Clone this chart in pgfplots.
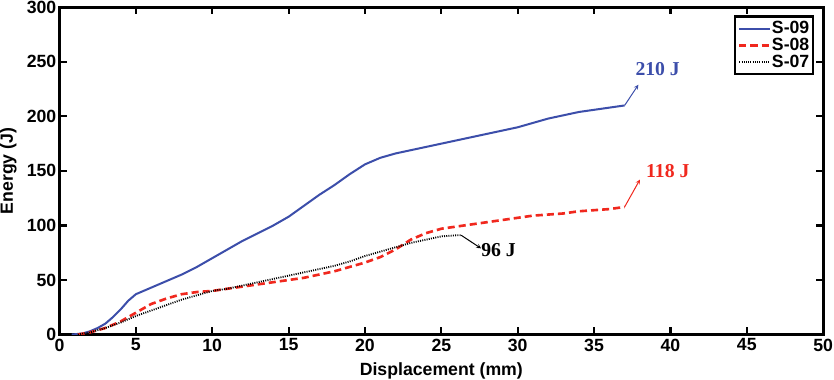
\documentclass[border=0pt]{standalone}
\usepackage{fontspec}
\setmainfont{Liberation Sans}
\newfontfamily\annfont{Liberation Serif}
\usepackage{pgfplots}
\pgfplotsset{compat=1.18}
\definecolor{sblue}{RGB}{60,78,170}
\definecolor{sred}{RGB}{240,40,30}
\newcommand{\bigbf}{\fontsize{17.5bp}{19bp}\selectfont\bfseries}
\newcommand{\annbf}{\annfont\fontsize{19.5bp}{21bp}\selectfont\bfseries}
\begin{document}
\begin{tikzpicture}
\begin{axis}[
  scale only axis,
  width=756bp, height=324bp,
  xmin=0, xmax=50, ymin=0, ymax=300,
  xtick={0,5,...,50}, ytick={0,50,...,300},
  tick align=inside, major tick length=7bp,
  tick style={line width=2.2pt, black},
  axis line style={line width=2.8pt},
  /pgf/number format/assume math mode=true,
  tick label style={font=\bigbf},
  label style={font=\bigbf},
  xticklabel style={inner sep=1bp, yshift=-3bp},
  yticklabel style={inner sep=1bp, xshift=-2bp},
  xlabel={Displacement (mm)}, ylabel={Energy (J)},
  xlabel style={at={(axis description cs:0.5,-0.086)}, anchor=north, inner sep=0bp},
  ylabel style={at={(axis description cs:-0.056,0.5)}, anchor=south, inner sep=0bp},
  legend style={at={(0.9886,0.975)}, anchor=north east, draw=black, line width=2.2pt,
    font=\bigbf, row sep=1bp, inner xsep=3bp, inner ysep=4bp,
    nodes={inner sep=1bp}},
  legend cell align=left,
  legend image code/.code={\draw[#1] (0bp,0bp) -- (30bp,0bp);},
  legend image post style={xshift=-3bp},
]
\addplot[sblue, line width=2pt] coordinates {
 (0.8,0) (1.5,1) (2,3) (2.5,6) (3,10) (3.5,16) (4,23) (4.5,31) (5,37) (6,43)
 (7,49) (8,55) (9,62) (10,70) (11,78) (12,86) (13,93) (14,100) (15,108)
 (16,118) (17,128) (18,137) (19,147) (20,156) (21,162) (22,166) (23,169)
 (24,172) (25,175) (26,178) (27,181) (28,184) (29,187) (30,190) (31,194)
 (32,198) (33,201) (34,204) (35,206) (36,208) (37,210)};
\addlegendentry{S-09}
\addplot[sred, line width=2.6pt, dash pattern=on 7bp off 4bp] coordinates {
 (1.2,0) (2,2) (3,6) (4,12) (5,20) (6,28) (7,33) (8,37) (9,39) (10,40)
 (11,42) (12,44) (13,46) (14,48) (15,50) (16,52) (17,55) (18,58) (19,62)
 (20,66) (21,71) (22,78) (23,87) (24,93) (25,97) (26,99) (27,101) (28,103)
 (29,105) (30,107) (31,109) (32,110) (33,111) (34,113) (35,114) (36,115) (37,117)};
\addlegendentry{S-08}
\addplot[black, line width=1.8pt, dash pattern=on 1bp off 1.2bp] coordinates {
 (1.2,0) (2,2) (3,6) (4,11) (5,17) (6,22) (7,27) (8,32) (9,36) (10,40)
 (11,42) (12,45) (13,48) (14,51) (15,54) (16,57) (17,60) (18,63) (19,67)
 (20,72) (21,76) (22,80) (23,84) (24,87) (25,90) (26,91) (26.3,91)};
\addlegendentry{S-07}
% value labels with arrows
\draw[sblue, line width=1pt, -stealth] (axis cs:37,210) -- (axis cs:37.9,229);
\node[sblue, font=\annbf, anchor=west, inner sep=0pt]
  at (axis cs:37.7,243) {210 J};
\draw[sred, line width=1pt, -stealth] (axis cs:37,117) -- (axis cs:38,142);
\node[sred, font=\annbf, anchor=west, inner sep=0pt]
  at (axis cs:38.4,150) {118 J};
\draw[black, line width=1pt, -stealth] (axis cs:26.3,91) -- (axis cs:27.6,79);
\node[black, font=\annbf, anchor=west, inner sep=0pt]
  at (axis cs:27.6,77) {96 J};
\end{axis}
\end{tikzpicture}
\end{document}
